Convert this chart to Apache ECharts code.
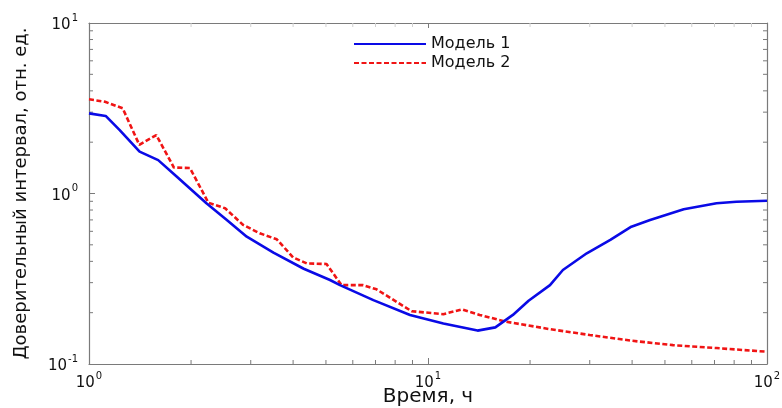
<!DOCTYPE html>
<html>
<head>
<meta charset="utf-8">
<script src="https://cdn.jsdelivr.net/npm/echarts@6/dist/echarts.min.js"></script>
<style>
html,body{margin:0;padding:0;background:#fff;}
#chart{width:782px;height:408px;}
</style>
</head>
<body>
<div id="chart"></div>
<script>
// ---- data ----
const seriesNames = ['Модель 1', 'Модель 2'];
const model1X = [1, 1.12, 1.23, 1.41, 1.6, 1.82, 2.22, 2.55, 2.92, 3.5, 4.3, 5.14, 5.5, 6.9, 8.85, 11.1, 14.0, 15.8, 17.8, 19.8, 22.9, 25.0, 29.4, 34.5, 39.8, 45.2, 56.8, 71.0, 81.2, 100];
const model1Y = [2.95, 2.85, 2.36, 1.76, 1.57, 1.25, 0.876, 0.70, 0.558, 0.45, 0.362, 0.311, 0.29, 0.237, 0.194, 0.173, 0.157, 0.164, 0.194, 0.235, 0.29, 0.356, 0.446, 0.534, 0.639, 0.699, 0.808, 0.876, 0.895, 0.907];
const model2X = [1, 1.115, 1.257, 1.407, 1.58, 1.78, 1.985, 2.25, 2.52, 2.85, 3.19, 3.58, 4.0, 4.39, 5.02, 5.56, 6.44, 7.05, 8.95, 11.1, 12.6, 14.2, 17.0, 22.9, 30.0, 39.8, 52.8, 71, 100];
const model2Y = [3.57, 3.45, 3.16, 1.93, 2.2, 1.42, 1.41, 0.883, 0.819, 0.654, 0.584, 0.539, 0.422, 0.389, 0.386, 0.29, 0.29, 0.274, 0.204, 0.196, 0.209, 0.194, 0.177, 0.16, 0.148, 0.137, 0.129, 0.124, 0.118];
const xRange = [1, 100];
const yRange = [0.1, 10];
const xMinorTicks = [2, 3, 4, 5, 6, 7, 8, 9, 20, 30, 40, 50, 60, 70, 80, 90];
const yMinorTicks = [0.2, 0.3, 0.4, 0.5, 0.6, 0.7, 0.8, 0.9, 2, 3, 4, 5, 6, 7, 8, 9];
const xAxisTitle = 'Время, ч';
const yAxisTitle = 'Доверительный интервал, отн. ед.';

// ---- styling ----
const FONT = 'DejaVu Sans';
const AXIS_COLOR = '#7a7a7a';
const supRich = {
  b: { fontFamily: FONT, fontSize: 15, color: '#111', lineHeight: 20, verticalAlign: 'bottom' },
  s: { fontFamily: FONT, fontSize: 10, color: '#111', lineHeight: 20, verticalAlign: 'top', padding: [0, 0, 0, 1] }
};
function powLabel(v) {
  const e = Math.round(Math.log10(v));
  return '{b|10}{s|' + e + '}';
}
function zip(xs, ys) { return xs.map((x, i) => [x, ys[i]]); }

const chart = echarts.init(document.getElementById('chart'), null, { renderer: 'canvas' });

const baseAxis = {
  type: 'log', logBase: 10,
  axisLine: { show: true, lineStyle: { color: AXIS_COLOR, width: 1.2 } },
  splitLine: { show: false },
  minorTick: { show: false },
  minorSplitLine: { show: false }
};

const option = {
  animation: false,
  backgroundColor: '#ffffff',
  grid: { left: 89, right: 15, top: 23, bottom: 44, containLabel: false, outerBoundsMode: 'none' },
  legend: {
    data: seriesNames,
    orient: 'vertical',
    left: 348, top: 30,
    itemWidth: 72, itemHeight: 12, itemGap: 1,
    itemStyle: { color: 'transparent', borderColor: 'transparent', borderWidth: 0, opacity: 0 },
    textStyle: { fontFamily: FONT, fontSize: 16, color: '#111', lineHeight: 18 }
  },
  xAxis: [
    Object.assign({}, baseAxis, {
      min: xRange[0], max: xRange[1], position: 'bottom',
      axisTick: { show: true, inside: true, length: 6, lineStyle: { color: AXIS_COLOR } },
      axisLabel: { margin: 7, formatter: powLabel, rich: supRich },
      name: xAxisTitle, nameLocation: 'middle', nameGap: 23, nameMoveOverlap: false,
      nameTextStyle: { fontFamily: FONT, fontSize: 20, color: '#111' }
    }),
    Object.assign({}, baseAxis, {
      min: xRange[0], max: xRange[1], position: 'top',
      axisTick: { show: true, inside: true, length: 5, lineStyle: { color: AXIS_COLOR } },
      axisLabel: { show: false }
    })
  ],
  yAxis: [
    Object.assign({}, baseAxis, {
      min: yRange[0], max: yRange[1], position: 'left', interval: 1,
      axisTick: { show: true, inside: true, length: 6, lineStyle: { color: AXIS_COLOR } },
      axisLabel: { margin: 11, formatter: powLabel, rich: supRich },
      name: yAxisTitle, nameLocation: 'middle', nameGap: 59, nameMoveOverlap: false,
      nameTextStyle: { fontFamily: FONT, fontSize: 18, color: '#111' }
    }),
    Object.assign({}, baseAxis, {
      min: yRange[0], max: yRange[1], position: 'right', interval: 1,
      axisTick: { show: true, inside: true, length: 6, lineStyle: { color: AXIS_COLOR } },
      axisLabel: { show: false }
    })
  ],
  series: [
    {
      name: seriesNames[0], type: 'line', showSymbol: false, symbol: 'none',
      data: zip(model1X, model1Y),
      lineStyle: { color: '#0a0ae6', width: 2.6 },
      itemStyle: { color: '#0a0ae6' },
      z: 3
    },
    {
      name: seriesNames[1], type: 'line', showSymbol: false, symbol: 'none',
      data: zip(model2X, model2Y),
      lineStyle: { color: '#f01414', width: 2.6, type: [5, 2.5] },
      itemStyle: { color: '#f01414' },
      z: 2
    },
    {
      name: 'xMinor', type: 'custom', silent: true,
      xAxisIndex: 0, yAxisIndex: 0,
      data: xMinorTicks.map(v => [v, yRange[0]]),
      renderItem: function (params, api) {
        const x = api.value(0);
        const b = api.coord([x, yRange[0]]);
        const t = api.coord([x, yRange[1]]);
        return {
          type: 'group',
          children: [
            { type: 'line', shape: { x1: b[0], y1: b[1], x2: b[0], y2: b[1] - 4 }, style: { stroke: AXIS_COLOR, lineWidth: 1 } },
            { type: 'line', shape: { x1: t[0], y1: t[1], x2: t[0], y2: t[1] + 4 }, style: { stroke: '#d0d0d0', lineWidth: 1 } }
          ]
        };
      }
    },
    {
      name: 'yMinor', type: 'custom', silent: true,
      xAxisIndex: 0, yAxisIndex: 0,
      data: yMinorTicks.map(v => [xRange[0], v]),
      renderItem: function (params, api) {
        const y = api.value(1);
        const l = api.coord([xRange[0], y]);
        const r = api.coord([xRange[1], y]);
        return {
          type: 'group',
          children: [
            { type: 'line', shape: { x1: l[0], y1: l[1], x2: l[0] + 4, y2: l[1] }, style: { stroke: AXIS_COLOR, lineWidth: 1 } },
            { type: 'line', shape: { x1: r[0], y1: r[1], x2: r[0] - 4, y2: r[1] }, style: { stroke: AXIS_COLOR, lineWidth: 1 } }
          ]
        };
      }
    }
  ]
};
chart.setOption(option);
</script>
</body>
</html>
